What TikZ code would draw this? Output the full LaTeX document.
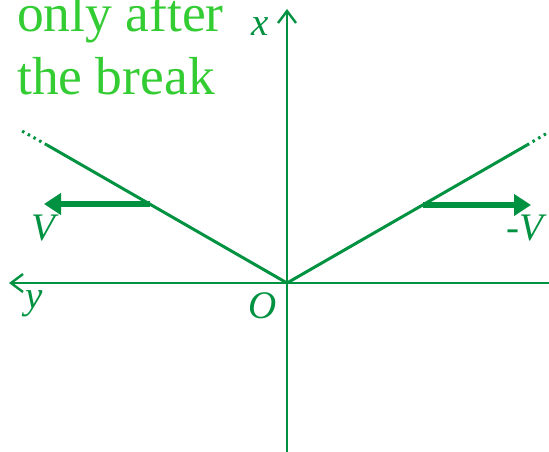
\documentclass[tikz,border=0pt]{standalone}
\usepackage{fontspec}
\setmainfont{Liberation Serif}
\usetikzlibrary{arrows.meta}
\definecolor{dkgreen}{RGB}{0,146,64}
\definecolor{ltgreen}{RGB}{51,204,51}
\tikzset{
  axisline/.style={draw=dkgreen,line width=2.2pt,-{Straight Barb[length=12pt,width=18pt,line width=2.4pt]}},
  branch/.style={draw=dkgreen,line width=3pt},
  dotext/.style={draw=dkgreen,line width=3pt,dash pattern=on 2.5pt off 4pt},
  vel/.style={draw=dkgreen,fill=dkgreen,line width=6pt,-{Triangle[length=17pt,width=21pt]}},
  lbl/.style={text=dkgreen,font=\fontsize{39}{40}\selectfont\itshape,inner sep=0pt},
  note/.style={text=ltgreen,font=\fontsize{53.5}{63}\selectfont,inner sep=0pt,anchor=base west}
}
\begin{document}
\begin{tikzpicture}[x=1pt,y=-1pt]
\useasboundingbox (0,0) rectangle (549,452);
% axes
\coordinate (O) at (287,283);
\coordinate (xbot) at (287,452);
\coordinate (xtop) at (287,9);
\coordinate (yright) at (549,283);
\coordinate (yleft) at (9,283);
\draw[axisline] (xbot) -- (xtop);
\draw[axisline] (yright) -- (yleft);
% branches
\coordinate (L1) at (47,145);
\coordinate (L2) at (22,131);
\coordinate (R1) at (527,145);
\coordinate (R2) at (549,132);
\draw[branch] (O) -- (L1);
\draw[dotext] (L1) -- (L2);
\draw[branch] (O) -- (R1);
\draw[dotext] (R1) -- (R2);
% velocity arrows
\coordinate (VLs) at (150,204);
\coordinate (VLe) at (44,204);
\coordinate (VRs) at (423,205);
\coordinate (VRe) at (531,205);
\draw[vel] (VLs) -- (VLe);
\draw[vel] (VRs) -- (VRe);
% labels
\node[lbl] (lx) at (260,27) {x};
\node[lbl] (lO) at (263,306) {O};
\node[lbl] (ly) at (34,304) {y};
\node[lbl] (lV) at (43,228) {V};
\node[lbl] (lmV) at (525,228) {\upshape-\itshape V};
% note
\node[note] (n1) at (17,32) {only after};
\node[note] (n2) at (17,95) {the break};
\end{tikzpicture}
\end{document}
